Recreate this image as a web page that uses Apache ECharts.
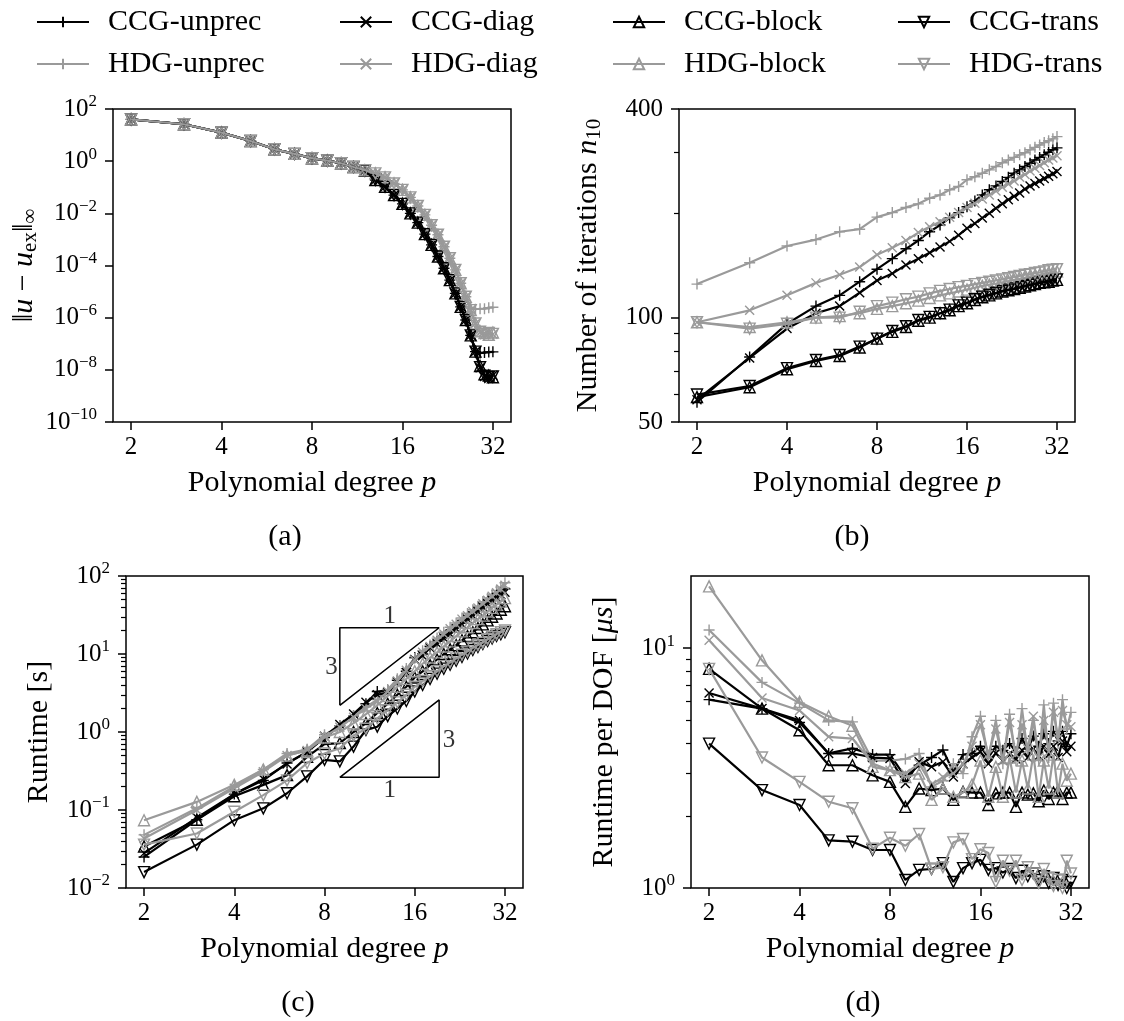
<!DOCTYPE html>
<html>
<head>
<meta charset="utf-8">
<script src="https://cdn.jsdelivr.net/npm/echarts@6/dist/echarts.min.js"></script>
<style>
html,body{margin:0;padding:0;background:#fff;}
#chart{width:1124px;height:1021px;}
</style>
</head>
<body>
<div id="chart"></div>
<script>
// ---------------- data ----------------
const P = [2,3,4,5,6,7,8,9,10,11,12,13,14,15,16,17,18,19,20,21,22,23,24,25,26,27,28,29,30,31,32];
const methodNames = ['CCG-unprec','HDG-unprec','CCG-diag','HDG-diag','CCG-block','HDG-block','CCG-trans','HDG-trans'];
const xTicks = [2,4,8,16,32];

// (a) error ||u - u_ex||_inf
const errCCGunprec = [40,26,12.4,5.9,2.85,1.9,1.3,1.05,0.83,0.6,0.43,0.19,0.105,0.05,0.023,0.01,4.4e-3,1.6e-3,6.2e-4,2.2e-4,7.8e-5,2.75e-5,8.5e-6,2.6e-6,8.1e-7,2.1e-7,5.0e-8,4.4e-8,4.6e-8,4.8e-8,4.9e-8];
const errCCGdiag   = [40,26,12.4,5.9,2.85,1.9,1.3,1.05,0.83,0.6,0.43,0.19,0.105,0.05,0.023,0.01,4.4e-3,1.6e-3,6.2e-4,2.2e-4,7.8e-5,2.75e-5,8.5e-6,2.6e-6,8.1e-7,2.1e-7,5.0e-8,1.2e-8,5.5e-9,4.6e-9,6.2e-9];
const errCCGblock  = [40,26,12.4,5.9,2.85,1.9,1.3,1.05,0.83,0.6,0.43,0.19,0.105,0.05,0.023,0.01,4.4e-3,1.6e-3,6.2e-4,2.2e-4,7.8e-5,2.75e-5,8.5e-6,2.6e-6,8.1e-7,2.1e-7,5.0e-8,1.4e-8,6.8e-9,6.0e-9,5.2e-9];
const errCCGtrans  = [40,26,12.4,5.9,2.85,1.9,1.3,1.05,0.83,0.6,0.43,0.19,0.105,0.05,0.023,0.01,4.4e-3,1.6e-3,6.2e-4,2.2e-4,7.8e-5,2.75e-5,8.5e-6,2.6e-6,8.1e-7,2.1e-7,5.0e-8,1.25e-8,5.9e-9,5.2e-9,5.6e-9];
const errHDGunprec = [40,26,12.4,5.9,2.85,1.9,1.3,1.05,0.83,0.6,0.45,0.34,0.24,0.14,0.079,0.041,0.019,8.7e-3,3.5e-3,1.5e-3,5.2e-4,1.9e-4,6.8e-5,2.1e-5,6.3e-6,2.3e-6,2.1e-6,2.2e-6,2.2e-6,2.4e-6,2.5e-6];
const errHDGdiag   = [40,26,12.4,5.9,2.85,1.9,1.3,1.05,0.83,0.6,0.45,0.34,0.24,0.14,0.079,0.041,0.019,8.7e-3,3.5e-3,1.5e-3,5.2e-4,1.9e-4,6.8e-5,2.1e-5,6.3e-6,1.95e-6,6.0e-7,2.7e-7,2.2e-7,2.8e-7,2.3e-7];
const errHDGblock  = [40,26,12.4,5.9,2.85,1.9,1.3,1.05,0.83,0.6,0.45,0.34,0.24,0.14,0.079,0.041,0.019,8.7e-3,3.5e-3,1.5e-3,5.2e-4,1.9e-4,6.8e-5,2.1e-5,6.3e-6,1.95e-6,6.0e-7,3.0e-7,2.6e-7,2.2e-7,2.7e-7];
const errHDGtrans  = [40,26,12.4,5.9,2.85,1.9,1.3,1.05,0.83,0.6,0.45,0.34,0.24,0.14,0.079,0.041,0.019,8.7e-3,3.5e-3,1.5e-3,5.2e-4,1.9e-4,6.8e-5,2.1e-5,6.3e-6,1.95e-6,6.0e-7,2.9e-7,2.4e-7,2.6e-7,2.4e-7];

// (b) number of iterations n10
const itCCGunprec = [57,77,96,108,116,127,138,148,158,167,177,185,194,201,209,217,226,234,240,247,254,261,267,273,279,285,290,295,300,305,309];
const itCCGdiag   = [58,76.5,93,103,108,118,128,134,142,148,154,160,166,173,181,187,194,200,207,213,219,224,229,235,240,244,248,252,256,260,264];
const itCCGblock  = [59,63,71,75,77.5,82,87,91,94,98,100,103,105,108,110,112.5,114.5,116,117.5,119,120,121,122,123,124,125,126,126.5,127,128,128.5];
const itCCGtrans  = [60,63.5,71.5,75.5,78,82.5,87,91.5,94.5,98.5,100.5,103,105.5,108.5,110.5,113,115,116.5,118,119.5,120.5,121.5,122.5,123.5,124.5,125.5,126.5,127,127.5,128.5,129];
const itHDGunprec = [125,144,161,168,177,180,195,201,208,213,221,226,234,239,250,255,261,267,273,280,285,290,295,299,305,310,315,320,324,328,333];
const itHDGdiag   = [97,105,116,126,133,140,152,159,167,176,183,189,195,201,208,214,220,226,232,238,243,248,254,259,265,270,275,280,285,289,293];
const itHDGblock  = [97,94,97,100,101,103,106,108,110,112,114,116,117.5,119,120.5,122,123.5,124.5,125.5,126.5,127.5,128.5,129.5,130.5,131.5,132,133,134,135,135.5,136];
const itHDGtrans  = [97,93,96,100,100,104,108,110.5,113,115,117.5,119.5,121,122.5,123.5,125,126,127,128,129,130,131,132,133,133.5,134.5,135,136,137,137.5,138];

// (c) runtime [s]
const rtCCGunprec = [0.025,0.075,0.16,0.24,0.40,0.55,0.85,1.2,1.6,2.3,3.3,3.4,4.6,6.0,9.0,10,12.5,14.5,17,19,22,25,29,33,36,42,46,52,56,62,68];
const rtCCGdiag   = [0.028,0.08,0.16,0.25,0.39,0.56,0.88,1.25,1.7,2.4,3.0,3.2,4.4,5.8,8.5,9.5,12,13.5,16,18,21,24,28,31,35,40,44,49,53,58,62];
const rtCCGblock  = [0.034,0.075,0.15,0.21,0.28,0.48,0.7,0.72,1.0,1.3,1.75,2.3,3.0,3.8,5.0,6.0,7.2,8.5,10,11.5,13,15,17,19,21.5,24,27,30,33,37,41];
const rtCCGtrans  = [0.016,0.036,0.074,0.105,0.164,0.27,0.44,0.42,0.65,1.06,1.17,1.6,2.0,2.5,3.3,4.0,4.8,5.6,6.5,7.3,8.2,9.2,10.2,11.3,12.3,13.5,14.7,15.8,17,18,19];
const rtHDGunprec = [0.048,0.105,0.2,0.33,0.53,0.6,0.92,1.2,1.6,2.1,2.6,3.5,4.8,6.5,8.8,11,13,16,19,22,25,29,33,37,41,47,52,58,65,72,82];
const rtHDGdiag   = [0.043,0.1,0.19,0.31,0.5,0.58,0.88,1.15,1.55,2.0,2.5,3.3,4.5,6.2,8.4,10.5,12.5,15,18,21,24,28,31,35,39,44,49,55,61,68,76];
const rtHDGblock  = [0.074,0.127,0.21,0.33,0.5,0.58,0.85,1.0,1.3,1.7,2.2,2.9,3.8,4.8,6.0,7.5,9,10.5,12.5,14.5,17,19.5,22,25,28,31,35,39,43,47,52];
const rtHDGtrans  = [0.036,0.05,0.095,0.155,0.24,0.4,0.53,0.62,0.9,1.1,1.5,1.9,2.4,3.0,3.8,4.5,5.2,6.0,7.0,7.8,8.8,9.8,10.8,12,13,14,15.5,16.5,18,19,20];

// (d) runtime per DOF [us]
const dofCCGunprec = [6.1,5.6,4.9,3.64,3.82,3.6,3.6,2.9,3.25,3.5,3.76,3.05,3.6,3.64,3.9,3.5,3.9,3.75,4.0,3.7,4.2,3.8,4.3,3.9,4.4,4.0,4.5,4.1,4.5,3.9,4.4];
const dofCCGdiag   = [6.5,5.6,5.0,3.64,3.64,3.5,3.47,2.73,3.36,3.2,3.36,2.9,3.3,3.5,3.7,3.3,3.65,3.4,3.6,3.45,3.75,3.5,3.8,3.55,3.9,3.6,3.9,3.5,4.1,3.7,3.9];
const dofCCGblock  = [8.2,5.6,4.55,3.25,3.25,2.95,2.77,2.18,2.6,2.56,2.6,2.33,2.52,2.5,2.5,2.22,2.48,2.5,2.5,2.18,2.5,2.45,2.48,2.3,2.55,2.35,2.5,2.55,2.35,2.5,2.5];
const dofCCGtrans  = [4.0,2.56,2.22,1.58,1.56,1.44,1.44,1.08,1.19,1.2,1.27,1.06,1.21,1.27,1.31,1.19,1.21,1.16,1.2,1.1,1.18,1.12,1.15,1.08,1.12,1.05,1.1,1.03,1.08,1.0,1.06];
const dofHDGunprec = [11.9,7.2,5.9,5.0,4.93,3.4,3.4,3.45,3.64,2.64,2.8,3.3,3.0,4.27,5.2,3.5,5.0,3.3,5.3,3.4,5.6,3.6,5.0,3.4,5.8,3.5,5.9,4.0,6.1,4.6,5.4];
const dofHDGdiag   = [10.8,6.2,5.5,4.27,4.2,3.3,3.1,3.0,3.3,2.7,2.9,3.0,3.3,3.9,4.8,3.6,4.6,3.4,4.9,3.6,4.8,3.8,5.2,3.5,5.0,3.7,5.4,4.2,5.5,4.8,4.7];
const dofHDGblock  = [18.1,8.9,5.97,5.2,4.75,3.2,3.1,2.9,3.0,2.33,2.6,2.4,2.5,2.7,3.4,2.4,3.2,2.4,3.5,2.5,3.4,2.6,3.6,2.4,3.4,2.6,3.6,2.5,3.3,2.8,3.0];
const dofHDGtrans  = [8.2,3.5,2.77,2.29,2.15,1.46,1.62,1.5,1.68,1.2,1.22,1.55,1.6,1.32,1.45,1.4,1.06,1.3,1.18,1.3,1.08,1.22,1.15,1.05,1.2,1.1,1.02,1.08,1.0,1.3,1.15];

// axis ranges / ticks
const yTicksA = [1e-10,1e-8,1e-6,1e-4,1e-2,1,1e2];
const yTicksB = [50,100,400];
const yMinorB = [60,70,80,90,200,300];
const yTicksC = [1e-2,1e-1,1,10,100];
const yMinorC = [0.02,0.03,0.04,0.05,0.06,0.07,0.08,0.09,0.2,0.3,0.4,0.5,0.6,0.7,0.8,0.9,2,3,4,5,6,7,8,9,20,30,40,50,60,70,80,90];
const yTicksD = [1,10];
const yMinorD = [2,3,4,5,6,7,8,9];

// slope triangles in panel (c): [p, runtime] vertices, and label anchors
const slopeTri1 = [[9,2.2],[9,21.7],[19.3,21.7],[9,2.2]];
const slopeTri2 = [[9,0.262],[19.3,0.262],[19.3,2.58],[9,0.262]];
const slopeLabels = [{name:'1',value:[13.2,30]},{name:'3',value:[8.45,6.8]},{name:'3',value:[20.8,0.79]},{name:'1',value:[13.2,0.18]}];

// ---------------- chart ----------------
const FONT = '"Liberation Serif", "DejaVu Serif", serif';
const BLACK = '#000000', GRAY = '#9a9a9a';
const XMIN = 2/Math.pow(2,0.2), XMAX = 32*Math.pow(2,0.2);

const panels = [
  [errCCGunprec,errHDGunprec,errCCGdiag,errHDGdiag,errCCGblock,errHDGblock,errCCGtrans,errHDGtrans],
  [itCCGunprec,itHDGunprec,itCCGdiag,itHDGdiag,itCCGblock,itHDGblock,itCCGtrans,itHDGtrans],
  [rtCCGunprec,rtHDGunprec,rtCCGdiag,rtHDGdiag,rtCCGblock,rtHDGblock,rtCCGtrans,rtHDGtrans],
  [dofCCGunprec,dofHDGunprec,dofCCGdiag,dofHDGdiag,dofCCGblock,dofHDGblock,dofCCGtrans,dofHDGtrans]
];

const SYM_PLUS = 'path://M0,5L10,5M5,0L5,10';
const SYM_CROSS = 'path://M0,0L10,10M10,0L0,10';
function styleFor(name){
  const c = name.startsWith('CCG') ? BLACK : GRAY;
  let symbol = 'triangle', rot = 0, size = 11;
  if (name.endsWith('unprec')) { symbol = SYM_PLUS; size = 11; }
  else if (name.endsWith('diag')) { symbol = SYM_CROSS; size = 9; }
  else if (name.endsWith('trans')) { rot = 180; }
  return {c, symbol, rot, size};
}

const grids = [
  {left:113, top:109, width:398, height:313},
  {left:679, top:109, width:396, height:313},
  {left:126, top:576, width:397, height:312},
  {left:691, top:576, width:398, height:312}
].map(g => Object.assign(g, {show:true, borderColor:'#000', borderWidth:1.5, backgroundColor:'transparent', containLabel:false, outerBoundsMode:'none'}));

const labelBase = {fontFamily:FONT, fontSize:25, color:'#000'};
const richSup = {
  b:{fontFamily:FONT, fontSize:25, color:'#000'},
  s:{fontFamily:FONT, fontSize:17, color:'#000', padding:[0,0,14,0]}
};
function supFmt(v){
  const e = Math.round(Math.log10(v));
  return '{b|10}{s|' + (e < 0 ? '\u2212' + (-e) : e) + '}';
}
const nameRich = {
  i:{fontFamily:FONT, fontSize:30, fontStyle:'italic', color:'#000'},
  n:{fontFamily:FONT, fontSize:30, color:'#000'},
  sub:{fontFamily:FONT, fontSize:21, color:'#000', padding:[12,0,0,0]}
};

const xAxes = [0,1,2,3].map(g => ({
  type:'log', logBase:2, gridIndex:g, min:XMIN, max:XMAX,
  axisLine:{show:false}, splitLine:{show:false},
  axisTick:{show:true, customValues:xTicks, length:8, lineStyle:{color:'#000', width:1.5}},
  axisLabel:Object.assign({customValues:xTicks, margin:13}, labelBase),
  name:'{n|Polynomial degree }{i|p}', nameLocation:'middle', nameGap:46,
  nameTextStyle:{fontFamily:FONT, fontSize:30, color:'#000', rich:nameRich}
}));

function yMain(g, min, max, ticks, fmt, name, gap){
  return {
    type:'log', logBase:10, gridIndex:g, min, max, position:'left',
    axisLine:{show:false}, splitLine:{show:false},
    axisTick:{show:true, customValues:ticks, length:8, lineStyle:{color:'#000', width:1.5}},
    axisLabel:Object.assign({customValues:ticks, margin:16, formatter:fmt, rich:richSup}, labelBase),
    name, nameLocation:'middle', nameGap:gap, nameRotate:90,
    nameTextStyle:{fontFamily:FONT, fontSize:30, color:'#000', rich:nameRich}
  };
}
function yMinor(g, min, max, ticks){
  return {
    type:'log', logBase:10, gridIndex:g, min, max, position:'left', offset:0,
    axisLine:{show:false, onZero:false}, splitLine:{show:false}, axisLabel:{show:false},
    axisTick:{show:true, customValues:ticks, length:5, lineStyle:{color:'#000', width:1.2}}
  };
}

const yAxes = [
  yMain(0, 1e-10, 1e2, yTicksA, supFmt, '{n|\u2016}{i|u}{n| \u2212 }{i|u}{sub|ex}{n|\u2016}{sub|\u221e}', 72),
  yMain(1, 50, 400, yTicksB, v => '{b|' + v + '}', '{n|Number of iterations }{i|n}{sub|10}', 74),
  yMain(2, 1e-2, 1e2, yTicksC, supFmt, '{n|Runtime [s]}', 72),
  yMain(3, 1, 20, yTicksD, supFmt, '{n|Runtime per DOF [}{i|\u03bcs}{n|]}', 72),
  yMinor(1, 50, 400, yMinorB),
  yMinor(2, 1e-2, 1e2, yMinorC),
  yMinor(3, 1, 20, yMinorD)
];

const series = [];
panels.forEach((arrs, g) => {
  arrs.forEach((arr, j) => {
    const name = methodNames[j];
    const st = styleFor(name);
    series.push({
      type:'line', name, xAxisIndex:g, yAxisIndex:g,
      data:P.map((p,k) => [p, arr[k]]),
      symbol:st.symbol, symbolSize:st.size, symbolRotate:st.rot, showAllSymbol:true,
      lineStyle:{color:st.c, width:2.2},
      itemStyle:{color:'rgba(255,255,255,0)', borderColor:st.c, borderWidth:1.4},
      emphasis:{disabled:true}, animation:false, z:2+j
    });
  });
});
[slopeTri1, slopeTri2].forEach(tri => {
  series.push({type:'line', xAxisIndex:2, yAxisIndex:2, data:tri, showSymbol:false, symbol:'none',
    lineStyle:{color:'#000', width:1.5}, silent:true, animation:false, z:1});
});
series.push({type:'scatter', xAxisIndex:2, yAxisIndex:2, data:slopeLabels, symbolSize:0, silent:true,
  label:{show:true, position:'inside', formatter:'{b}', fontFamily:FONT, fontSize:25, color:'#000'}});

const legendPos = [[36,7],[36,49],[339,7],[339,49],[612,7],[612,49],[897,7],[897,49]];
const legends = methodNames.map((n,i) => ({
  data:[n], left:legendPos[i][0], top:legendPos[i][1], padding:0, itemWidth:52, itemHeight:13,
  selectedMode:false, textStyle:{fontFamily:FONT, fontSize:30, color:'#000', padding:[0,0,0,14]}
}));

function cap(t,x,y){
  return {type:'text', x, y, silent:true,
    style:{text:t, font:'30px ' + FONT, fill:'#000', align:'center', verticalAlign:'middle', textAlign:'center', textVerticalAlign:'middle'}};
}

const chart = echarts.init(document.getElementById('chart'), null, {renderer:'canvas'});
chart.setOption({
  animation:false,
  backgroundColor:'#fff',
  grid:grids, xAxis:xAxes, yAxis:yAxes, series, legend:legends,
  graphic:[cap('(a)',285,537), cap('(b)',852,537), cap('(c)',298,1003), cap('(d)',863,1003)]
});
</script>
</body>
</html>
